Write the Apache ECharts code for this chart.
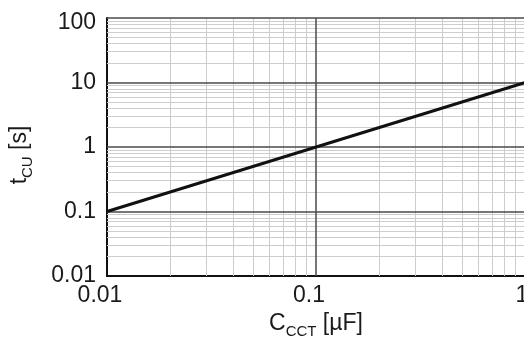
<!DOCTYPE html>
<html>
<head>
<meta charset="utf-8">
<script src="https://cdn.jsdelivr.net/npm/echarts@6/dist/echarts.min.js"></script>
<style>
  html, body { margin: 0; padding: 0; background: #fff; }
  #chart { width: 524px; height: 343px; }
</style>
</head>
<body>
<div id="chart"></div>
<script>
// C_CCT [uF] vs t_CU [s]
const capacitance = [0.01, 1]
const cuTime = [0.1, 10]

// decade tick values of the two log axes
const xDecades = [0.01, 0.1, 1]
const yDecades = [0.01, 0.1, 1, 10, 100]
const mantissa = [2, 3, 4, 5, 6, 7, 8, 9]

// grid line positions (minor lines at 2..9 in each decade)
function minorLines (decades, key) {
  const out = []
  decades.slice(0, -1).forEach(d => {
    mantissa.forEach(m => {
      const o = {}
      o[key] = +(d * m).toPrecision(3)
      out.push(o)
    })
  })
  return out
}
function majorLines (decades, key) {
  return decades.slice(1).map(d => {
    const o = {}
    o[key] = d
    return o
  })
}

const font = 'Liberation Sans, Arial, sans-serif'
const nameRich = {
  m: { fontSize: 23, fontFamily: font, color: '#1a1a1a', lineHeight: 27, verticalAlign: 'top' },
  s: { fontSize: 15, fontFamily: font, color: '#1a1a1a', lineHeight: 16, verticalAlign: 'bottom' }
}

const chart = echarts.init(document.getElementById('chart'))
chart.setOption({
  animation: false,
  grid: { left: 107, top: 18, right: -1, bottom: 67, containLabel: false, outerBoundsMode: 'none' },
  xAxis: {
    type: 'log',
    logBase: 10,
    min: 0.01,
    max: 1,
    name: '{m|C}{s|CCT}{m| [µF]}',
    nameLocation: 'middle',
    nameGap: 36,
    nameTextStyle: { rich: nameRich },
    axisLine: { show: true, lineStyle: { color: '#111', width: 2 } },
    axisTick: { show: false },
    splitLine: { show: false },
    axisLabel: {
      fontSize: 23,
      fontFamily: font,
      color: '#1a1a1a',
      margin: 8,
      padding: [0, 14, 0, 0],
      formatter: v => {
        const s = String(+v.toPrecision(1))
        return s === '1' ? '{e|' + s + '}' : s
      },
      rich: { e: { fontSize: 23, fontFamily: font, color: '#1a1a1a', padding: [0, 0, 0, 8] } }
    }
  },
  yAxis: {
    type: 'log',
    logBase: 10,
    min: 0.01,
    max: 100,
    name: '{m|t}{s|CU}{m| [s]}',
    nameLocation: 'middle',
    nameRotate: 90,
    nameGap: 72,
    nameTextStyle: { rich: nameRich, padding: [0, 16, 0, 0] },
    axisLine: { show: true, lineStyle: { color: '#111', width: 2 } },
    axisTick: { show: false },
    splitLine: { show: false },
    axisLabel: {
      fontSize: 23,
      fontFamily: font,
      color: '#1a1a1a',
      margin: 11,
      formatter: v => {
        const s = String(+v.toPrecision(1))
        return s === '100' ? '{t|' + s + '}' : s
      },
      rich: { t: { fontSize: 23, fontFamily: font, color: '#1a1a1a', padding: [10, 0, 0, 0] } }
    }
  },
  series: [
    {
      name: 'minor',
      type: 'line',
      data: [],
      z: 1,
      silent: true,
      markLine: {
        silent: true,
        z: 1,
        symbol: ['none', 'none'],
        label: { show: false },
        lineStyle: { color: '#cdcdcd', width: 1, type: 'solid' },
        data: minorLines(xDecades, 'xAxis').concat(minorLines(yDecades, 'yAxis'))
      }
    },
    {
      name: 'major',
      type: 'line',
      data: [],
      z: 2,
      silent: true,
      markLine: {
        silent: true,
        z: 2,
        symbol: ['none', 'none'],
        label: { show: false },
        lineStyle: { color: '#4a4a4a', width: 1.5, type: 'solid' },
        data: majorLines(xDecades, 'xAxis').concat(majorLines(yDecades, 'yAxis'))
      }
    },
    {
      name: 'tCU',
      type: 'line',
      z: 10,
      data: capacitance.map((c, i) => [c, cuTime[i]]),
      symbol: 'none',
      lineStyle: { color: '#111', width: 3 }
    }
  ]
})
</script>
</body>
</html>
